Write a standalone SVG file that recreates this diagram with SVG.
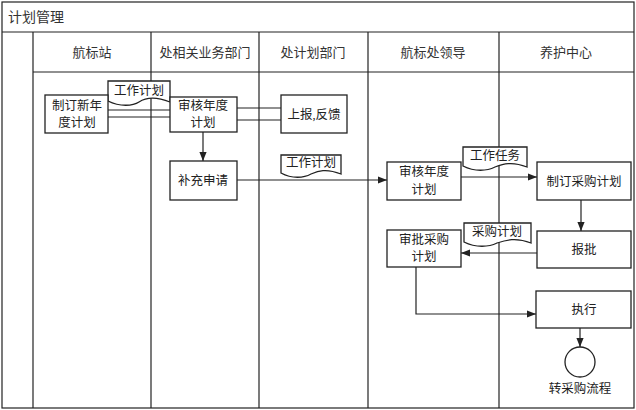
<svg xmlns="http://www.w3.org/2000/svg" width="636" height="410" viewBox="0 0 636 410">
<defs>
<style>
.ln{stroke:#222;stroke-width:1.2;fill:none}
.bx{stroke:#222;stroke-width:1.3;fill:#fff}
.t{font-family:"Liberation Serif","Noto Sans CJK SC",serif;font-size:12.5px;fill:#222;text-anchor:middle}
.h{font-family:"Liberation Serif","Noto Sans CJK SC",serif;font-size:13px;fill:#333;text-anchor:middle}
</style>
<marker id="ah" viewBox="0 0 10 10" refX="10" refY="5" markerWidth="9" markerHeight="9" markerUnits="userSpaceOnUse" orient="auto">
<path d="M0,1 L10,5 L0,9 z" fill="#222"/>
</marker>
</defs>
<rect width="636" height="410" fill="#fff"/>
<g id="frame">
<rect x="2" y="2" width="632" height="406" class="ln" stroke-width="1.5"/>
<line x1="2" y1="32" x2="634" y2="32" class="ln"/>
<line x1="33" y1="72" x2="634" y2="72" class="ln"/>
<line x1="33" y1="32" x2="33" y2="408" class="ln"/>
<line x1="151" y1="32" x2="151" y2="408" class="ln"/>
<line x1="259" y1="32" x2="259" y2="408" class="ln"/>
<line x1="368" y1="32" x2="368" y2="408" class="ln"/>
<line x1="499" y1="32" x2="499" y2="408" class="ln"/>
<text x="8" y="22" class="h" style="text-anchor:start;font-size:14px">计划管理</text>
<text x="92" y="57" class="h">航标站</text>
<text x="205" y="57" class="h">处相关业务部门</text>
<text x="313" y="57" class="h">处计划部门</text>
<text x="433" y="57" class="h">航标处领导</text>
<text x="566" y="57" class="h">养护中心</text>
</g>
<g id="connectors">
<line x1="108" y1="110" x2="170" y2="110" class="ln"/>
<line x1="108" y1="117" x2="170" y2="117" class="ln"/>
<line x1="237" y1="108" x2="281" y2="108" class="ln"/>
<line x1="237" y1="120" x2="281" y2="120" class="ln"/>
<line x1="203" y1="132" x2="203" y2="161" class="ln" marker-end="url(#ah)"/>
<line x1="237" y1="180" x2="387" y2="180" class="ln" marker-end="url(#ah)"/>
<line x1="461" y1="177" x2="537" y2="177" class="ln" marker-end="url(#ah)"/>
<line x1="581" y1="200" x2="581" y2="231" class="ln" marker-end="url(#ah)"/>
<line x1="537" y1="253" x2="461" y2="253" class="ln" marker-end="url(#ah)"/>
<polyline points="416,267 416,314 536,314" class="ln" marker-end="url(#ah)"/>
<line x1="580" y1="328" x2="580" y2="347" class="ln" marker-end="url(#ah)"/>
</g>
<g id="doc1">
<path d="M108,81 H170 V102 C155,96 145,98 139,102 C133,106 120,107 108,101 Z" class="bx"/>
<text x="139" y="95" class="t">工作计划</text>
</g>
<g id="doc2">
<path d="M281,155 H341 V174 C326,168 318,171 311,174 C304,178 292,179 281,173 Z" class="bx"/>
<text x="311" y="167" class="t">工作计划</text>
</g>
<g id="doc3">
<path d="M463,147 H527 V167 C512,161 503,164 495,167 C487,171 475,172 463,166 Z" class="bx"/>
<text x="495" y="160" class="t">工作任务</text>
</g>
<g id="doc4">
<path d="M464,223 H531 V243 C516,237 506,240 497,243 C489,247 476,248 464,242 Z" class="bx"/>
<text x="497" y="236" class="t">采购计划</text>
</g>
<g id="n1">
<rect x="45" y="95" width="63" height="38" class="bx"/>
<text x="77" y="110" class="t">制订新年</text>
<text x="77" y="127" class="t">度计划</text>
</g>
<g id="n2">
<rect x="170" y="97" width="67" height="35" class="bx"/>
<text x="203" y="110" class="t">审核年度</text>
<text x="203" y="127" class="t">计划</text>
</g>
<g id="n3">
<rect x="170" y="161" width="67" height="39" class="bx"/>
<text x="203" y="185" class="t">补充申请</text>
</g>
<g id="n4">
<rect x="281" y="95" width="66" height="38" class="bx"/>
<text x="314" y="119" class="t">上报,反馈</text>
</g>
<g id="n5">
<rect x="387" y="162" width="74" height="38" class="bx"/>
<text x="424" y="176" class="t">审核年度</text>
<text x="424" y="194" class="t">计划</text>
</g>
<g id="n6">
<rect x="537" y="162" width="94" height="38" class="bx"/>
<text x="584" y="186" class="t">制订采购计划</text>
</g>
<g id="n7">
<rect x="537" y="231" width="94" height="37" class="bx"/>
<text x="584" y="254" class="t">报批</text>
</g>
<g id="n8">
<rect x="387" y="230" width="74" height="37" class="bx"/>
<text x="424" y="244" class="t">审批采购</text>
<text x="424" y="261" class="t">计划</text>
</g>
<g id="n9">
<rect x="536" y="291" width="95" height="37" class="bx"/>
<text x="584" y="314" class="t">执行</text>
</g>
<g id="n10">
<circle cx="580" cy="362" r="15" class="bx"/>
<text x="580" y="393" class="t">转采购流程</text>
</g>
</svg>
